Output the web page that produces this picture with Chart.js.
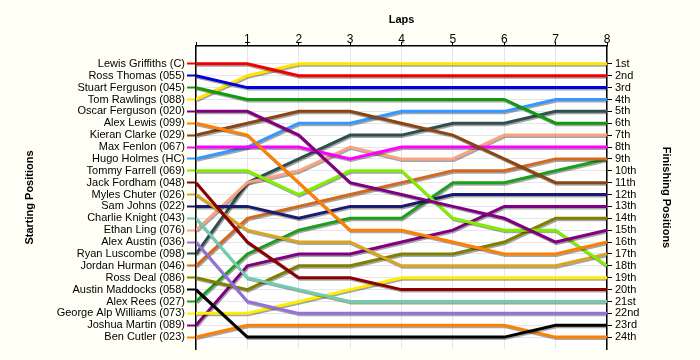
<!DOCTYPE html>
<html>
<head>
<meta charset="utf-8">
<script src="https://cdn.jsdelivr.net/npm/chart.js@4.4.1/dist/chart.umd.min.js"></script>
<style>
  html, body { margin: 0; padding: 0; background: #FFFFF6; }
  #wrap { width: 700px; height: 360px; }
</style>
</head>
<body>
<div id="wrap"><canvas id="c" width="700" height="360"></canvas></div>
<script>
// ---- Data ----
const laps = [0, 1, 2, 3, 4, 5, 6, 7, 8];
const driverNames = [
  'Lewis Griffiths (C)', 'Ross Thomas (055)', 'Stuart Ferguson (045)', 'Tom Rawlings (088)',
  'Oscar Ferguson (020)', 'Alex Lewis (099)', 'Kieran Clarke (029)', 'Max Fenlon (067)',
  'Hugo Holmes (HC)', 'Tommy Farrell (069)', 'Jack Fordham (048)', 'Myles Chuter (026)',
  'Sam Johns (022)', 'Charlie Knight (043)', 'Ethan Ling (076)', 'Alex Austin (036)',
  'Ryan Luscombe (098)', 'Jordan Hurman (046)', 'Ross Deal (086)', 'Austin Maddocks (058)',
  'Alex Rees (027)', 'George Alp Williams (073)', 'Joshua Martin (089)', 'Ben Cutler (023)'
];
const finishLabels = ['1st','2nd','3rd','4th','5th','6th','7th','8th','9th','10th','11th','12th',
  '13th','14th','15th','16th','17th','18th','19th','20th','21st','22nd','23rd','24th'];
const rowTicks = [1,2,3,4,5,6,7,8,9,10,11,12,13,14,15,16,17,18,19,20,21,22,23,24];

// positions per lap (lap 0 = start)
const lewisGriffiths   = [1, 1, 2, 2, 2, 2, 2, 2, 2];
const rossThomas       = [2, 3, 3, 3, 3, 3, 3, 3, 3];
const stuartFerguson   = [3, 4, 4, 4, 4, 4, 4, 6, 6];
const tomRawlings      = [4, 2, 1, 1, 1, 1, 1, 1, 1];
const oscarFerguson    = [5, 5, 7, 11, 12, 13, 14, 16, 15];
const alexLewis        = [6, 7, 11, 15, 15, 16, 17, 17, 16];
const kieranClarke     = [7, 6, 5, 5, 6, 7, 9, 11, 11];
const maxFenlon        = [8, 8, 8, 9, 8, 8, 8, 8, 8];
const hugoHolmes       = [9, 8, 6, 6, 5, 5, 5, 4, 4];
const tommyFarrell     = [10, 10, 12, 10, 10, 14, 15, 15, 18];
const jackFordham      = [11, 16, 19, 19, 20, 20, 20, 20, 20];
const mylesChuter      = [12, 15, 16, 16, 18, 18, 18, 18, 17];
const samJohns         = [13, 13, 14, 13, 13, 12, 12, 12, 12];
const charlieKnight    = [14, 19, 20, 21, 21, 21, 21, 21, 21];
const ethanLing        = [15, 11, 10, 8, 9, 9, 7, 7, 7];
const alexAustin       = [16, 21, 22, 22, 22, 22, 22, 22, 22];
const ryanLuscombe     = [17, 11, 9, 7, 7, 6, 6, 5, 5];
const jordanHurman     = [18, 14, 13, 12, 11, 10, 10, 9, 9];
const rossDeal         = [19, 20, 18, 18, 17, 17, 16, 14, 14];
const austinMaddocks   = [20, 24, 24, 24, 24, 24, 24, 23, 23];
const alexRees         = [21, 17, 15, 14, 14, 11, 11, 10, 9];
const georgeAlpWilliams= [22, 22, 21, 20, 19, 19, 19, 19, 19];
const joshuaMartin     = [23, 18, 17, 17, 16, 15, 13, 13, 13];
const benCutler        = [24, 23, 23, 23, 23, 23, 23, 24, 24];

const series = [lewisGriffiths, rossThomas, stuartFerguson, tomRawlings, oscarFerguson, alexLewis,
  kieranClarke, maxFenlon, hugoHolmes, tommyFarrell, jackFordham, mylesChuter, samJohns,
  charlieKnight, ethanLing, alexAustin, ryanLuscombe, jordanHurman, rossDeal, austinMaddocks,
  alexRees, georgeAlpWilliams, joshuaMartin, benCutler];

const colors = ['#F00000', '#0000D8', '#109A10', '#FFE400', '#800080', '#FF8000', '#8B4513',
  '#FF00FF', '#3399FF', '#80EE00', '#8B0000', '#DAA520', '#1A1A70', '#70CDB0', '#F8A482',
  '#9370DB', '#2F4F4F', '#D2691E', '#808000', '#000000', '#1E9E1E', '#FFEE00', '#800080', '#FF8000'];

// ---- Chart ----
const FONT = "'Liberation Sans', Arial, sans-serif";

const datasets = series.map((s, i) => ({
  label: driverNames[i],
  data: laps.map((l, j) => ({ x: l, y: s[j] })),
  borderColor: colors[i],
  backgroundColor: colors[i],
  borderWidth: 3,
  pointRadius: 0,
  tension: 0,
  fill: false
}));

const bgPlugin = {
  id: 'bg',
  beforeDraw(chart) {
    const { ctx, chartArea: a } = chart;
    ctx.save();
    ctx.fillStyle = '#FFFFF6';
    ctx.fillRect(0, 0, chart.width, chart.height);
    ctx.fillStyle = '#FFFFFF';
    ctx.fillRect(a.left, a.top, a.right - a.left, a.bottom - a.top);
    ctx.restore();
  }
};
const shadowPlugin = {
  id: 'shadow',
  beforeDatasetDraw(chart) {
    const c = chart.ctx;
    c.save();
    c.shadowColor = 'rgba(0,0,0,0.35)';
    c.shadowOffsetX = 1;
    c.shadowOffsetY = 1.5;
    c.shadowBlur = 0.5;
  },
  afterDatasetDraw(chart) { chart.ctx.restore(); }
};

new Chart(document.getElementById('c'), {
  type: 'line',
  data: { datasets },
  plugins: [bgPlugin, shadowPlugin],
  options: {
    responsive: false,
    animation: false,
    layout: { padding: { left: 19, right: 23, top: 8, bottom: 11 } },
    plugins: { legend: { display: false }, tooltip: { enabled: false } },
    scales: {
      x: {
        type: 'linear', position: 'top', min: 0, max: 8,
        afterFit: s => { s.height = 38; },
        ticks: { stepSize: 1, padding: -5, color: '#000', font: { family: FONT, size: 12 },
          callback: v => (v === 0 ? '' : String(v)) },
        grid: { color: '#E6E6E6', lineWidth: 1, tickColor: '#000', tickLength: 4 },
        border: { color: '#000', width: 1.5 },
        title: { display: true, text: 'Laps', color: '#000', font: { family: FONT, size: 11, weight: 'bold' }, padding: { top: 5, bottom: 0 } }
      },
      y: {
        type: 'linear', position: 'left', reverse: true, min: -0.5, max: 25,
        afterFit: s => { s.width = 177; },
        afterBuildTicks: s => { s.ticks = rowTicks.map(v => ({ value: v })); },
        ticks: { autoSkip: false, padding: 2, color: '#000', font: { family: FONT, size: 11 },
          callback: v => driverNames[v - 1] },
        grid: { color: '#E6E6E6', lineWidth: 1, tickLength: 9, tickWidth: 2,
          tickColor: ctx => (ctx.tick && ctx.tick.value ? colors[ctx.tick.value - 1] : '#000') },
        border: { color: '#000', width: 1.5 },
        title: { display: true, text: 'Starting Positions', color: '#000', font: { family: FONT, size: 11, weight: 'bold' }, padding: { top: 4, bottom: 4 } }
      },
      y2: {
        type: 'linear', position: 'right', reverse: true, min: -0.5, max: 25,
        afterFit: s => { s.width = 70; },
        afterBuildTicks: s => { s.ticks = rowTicks.map(v => ({ value: v })); },
        ticks: { autoSkip: false, padding: 3, color: '#000', font: { family: FONT, size: 11 },
          callback: v => finishLabels[v - 1] },
        grid: { drawOnChartArea: false, tickColor: '#000', tickLength: 5 },
        border: { color: '#000', width: 1.5 },
        title: { display: true, text: 'Finishing Positions', color: '#000', font: { family: FONT, size: 11, weight: 'bold' }, padding: { top: 4, bottom: 4 } }
      }
    }
  }
});
</script>
</body>
</html>
